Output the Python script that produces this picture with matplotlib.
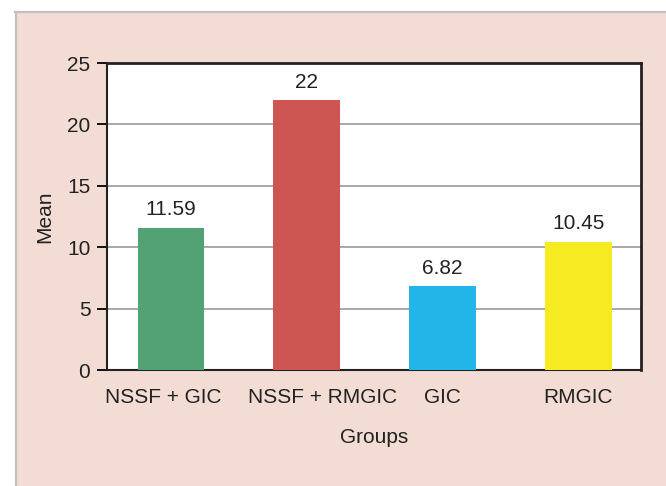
import matplotlib.pyplot as plt
from matplotlib.patches import Rectangle
from matplotlib.transforms import ScaledTranslation

groups = ["NSSF + GIC", "NSSF + RMGIC", "GIC", "RMGIC"]
means = [11.59, 22, 6.82, 10.45]
mean_labels = ["11.59", "22", "6.82", "10.45"]
colors = ["#52a275", "#cd5552", "#22b5e8", "#f5eb20"]
yticks = [0, 5, 10, 15, 20, 25]

plt.rcParams['font.family'] = ['Liberation Sans', 'DejaVu Sans']

fig = plt.figure(figsize=(6.66, 4.86), dpi=100)
fig.patch.set_facecolor("white")

# pink panel with grey border on top and left
fig.patches.append(Rectangle((16/666, 0), 1, 1 - 13/486, transform=fig.transFigure,
                             facecolor="#f2dcd4", edgecolor="none", zorder=-2))
fig.lines.append(plt.Line2D([15/666, 1], [1 - 12.5/486, 1 - 12.5/486], transform=fig.transFigure,
                            color="#c0c0c0", lw=1.6, zorder=-1))
fig.lines.append(plt.Line2D([15.5/666, 15.5/666], [0, 1 - 12.5/486], transform=fig.transFigure,
                            color="#c0c0c0", lw=1.6, zorder=-1))

ax = fig.add_axes([107/666, 1 - 370/486, 534/666, 307/486])
ax.set_zorder(1)
ax.set_facecolor("white")

x = list(range(len(groups)))
ax.bar(x, means, width=0.49, color=colors, zorder=3)
for xi, v, lab in zip(x, means, mean_labels):
    ax.annotate(lab, (xi, v), xytext=(0, 6), textcoords="offset points",
                ha="center", va="bottom", fontsize=15, color="#222222")

ax.set_xlim(-0.47, 3.46)
ax.set_ylim(0, 25)
ax.set_yticks(yticks)
ax.yaxis.grid(True, color="#a8a8a8", lw=1.4, zorder=1)
ax.set_axisbelow(True)
ax.set_xticks(x)
ax.set_xticklabels(groups, fontsize=15, color="#222222")
ax.tick_params(axis="x", length=0, pad=13)
ax.tick_params(axis="y", length=7, width=1.3, pad=5, labelsize=15, labelcolor="#222222")

# the original labels sit a little off the bar centres
shifts = [-8, 16, 0, 0]
for lbl, dx in zip(ax.get_xticklabels(), shifts):
    lbl.set_transform(lbl.get_transform() + ScaledTranslation(dx / 100, 0, fig.dpi_scale_trans))

for s in ax.spines.values():
    s.set_color("#222222")
    s.set_linewidth(1.5)
ax.spines["top"].set_linewidth(2)
ax.spines["right"].set_linewidth(2)

ax.set_xlabel("Groups", fontsize=15, color="#222222", labelpad=15)
ax.set_ylabel("Mean", fontsize=15, color="#222222", labelpad=9)

fig.savefig("out.png", dpi=100)
